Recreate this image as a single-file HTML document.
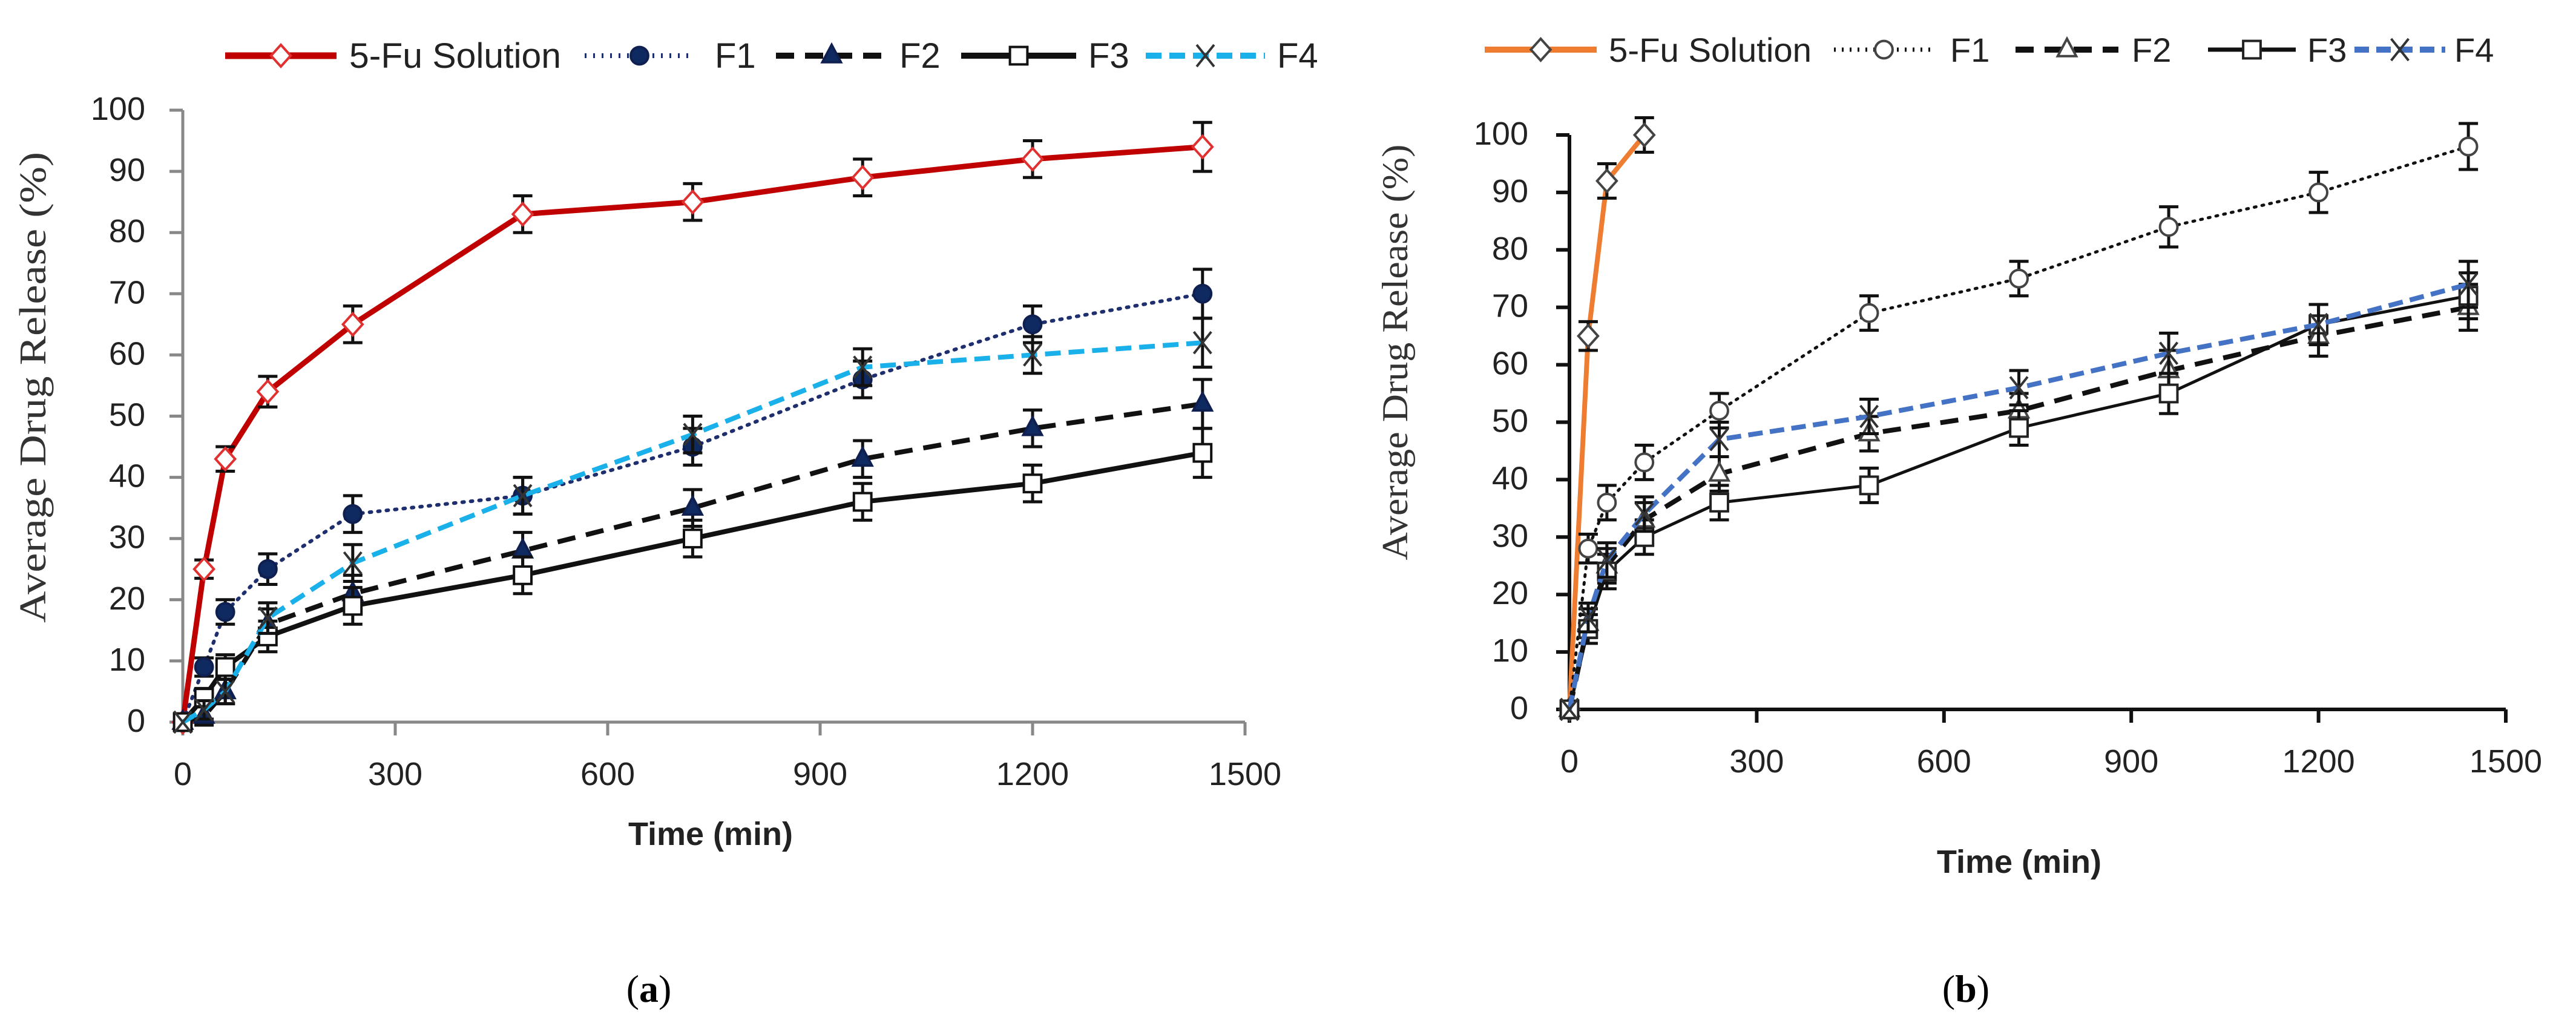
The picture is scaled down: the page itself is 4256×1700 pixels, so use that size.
<!DOCTYPE html>
<html><head><meta charset="utf-8"><style>
html,body{margin:0;padding:0;background:#fff;}
svg{display:block;font-family:"Liberation Sans",sans-serif;}
</style></head><body>
<svg id="fig" width="4256" height="1700" viewBox="0 0 4256 1700" xmlns="http://www.w3.org/2000/svg">
<text x="1072" y="1655" font-family="Liberation Serif" font-size="64" text-anchor="middle">(<tspan font-weight="bold">a</tspan>)</text>
<text x="3248" y="1655" font-family="Liberation Serif" font-size="64" text-anchor="middle">(<tspan font-weight="bold">b</tspan>)</text>
</svg>
<script>
const times = [0,30,60,120,240,480,720,960,1200,1440];
const seriesNames = ["5-Fu Solution","F1","F2","F3","F4"];
const xTicks = [0,300,600,900,1200,1500];
const yTicks = [0,10,20,30,40,50,60,70,80,90,100];
// Panel a
const aFu = [0,25,43,54,65,83,85,89,92,94];
const aF1 = [0,9,18,25,34,37,45,56,65,70];
const aF2 = [0,1,5,16,21,28,35,43,48,52];
const aF3 = [0,4,9,14,19,24,30,36,39,44];
const aF4 = [0,2,5,17,26,37,47,58,60,62];
const aErr = [1,1.5,2,2.5,3,3,3,3,3,4];
// Panel b
const bFuTimes = [0,30,60,120];
const bFu = [0,65,92,100];
const bF1 = [0,28,36,43,52,69,75,84,90,98];
const bF2 = [0,15,25,33,41,48,52,59,65,70];
const bF3 = [0,14,24,30,36,39,49,55,67,72];
const bF4 = [0,16,26,34,47,51,56,62,67,74];
const bErr = [1,2.5,3,3,3,3,3,3.5,3.5,4];

const NS="http://www.w3.org/2000/svg";
const svg=document.getElementById('fig');
function el(tag,attrs,parent){const e=document.createElementNS(NS,tag);for(const k in attrs)e.setAttribute(k,attrs[k]);(parent||svg).appendChild(e);return e;}

function marker(g,type,cx,cy,color,fill,sz){
  let m;
  if(type==='diamond'){m=el('polygon',{points:`${cx},${cy-sz} ${cx+sz*0.9},${cy} ${cx},${cy+sz} ${cx-sz*0.9},${cy}`,fill:fill,stroke:color,'stroke-width':4},g);}
  else if(type==='circle'){m=el('circle',{cx:cx,cy:cy,r:sz*0.8,fill:fill,stroke:color,'stroke-width':4},g);}
  else if(type==='triangle'){m=el('polygon',{points:`${cx},${cy-sz} ${cx+sz*0.85},${cy+sz*0.6} ${cx-sz*0.85},${cy+sz*0.6}`,fill:fill,stroke:color,'stroke-width':4},g);}
  else if(type==='square'){m=el('rect',{x:cx-sz*0.8,y:cy-sz*0.8,width:sz*1.6,height:sz*1.6,fill:fill,stroke:color,'stroke-width':4},g);}
  else {m=el('path',{d:`M${cx-sz*0.8},${cy-sz}L${cx+sz*0.8},${cy+sz}M${cx+sz*0.8},${cy-sz}L${cx-sz*0.8},${cy+sz}`,stroke:color,'stroke-width':4,fill:'none'},g);}
  
  
}

function panel(cfg){
  const g=el('g',{});
  
  
  const X=v=>cfg.x0+(v/1500)*(cfg.x1-cfg.x0);
  const Y=v=>cfg.y0-(v/100)*(cfg.y0-cfg.y1);
  const ya=el('line',{x1:X(0),y1:Y(0),x2:X(0),y2:Y(100),stroke:cfg.axisColor,'stroke-width':cfg.axisW},g);
  
  const xa=el('line',{x1:X(0),y1:Y(0),x2:X(1500),y2:Y(0),stroke:cfg.axisColor,'stroke-width':cfg.axisW},g);
  
  yTicks.forEach(t=>{
    el('line',{x1:X(0)-22,y1:Y(t),x2:X(0),y2:Y(t),stroke:cfg.axisColor,'stroke-width':cfg.axisW},g);
    const tx=el('text',{x:X(0)-cfg.ylGap,y:Y(t)+16,'font-size':54,'text-anchor':'end',fill:'#222'},g);
    tx.textContent=t;
    
  });
  xTicks.forEach(t=>{
    el('line',{x1:X(t),y1:Y(0),x2:X(t),y2:Y(0)+22,stroke:cfg.axisColor,'stroke-width':cfg.axisW},g);
    const tx=el('text',{x:X(t),y:Y(0)+104,'font-size':54,'text-anchor':'middle',fill:'#222'},g);
    tx.textContent=t;
    
  });
  const xt=el('text',{x:cfg.xtX,y:cfg.xtY,'font-size':54,'font-weight':'bold','text-anchor':'middle',fill:'#222'},g);
  xt.textContent='Time (min)';
  
  const yt=el('text',{x:0,y:0,'font-size':cfg.ytSize,'font-family':'Liberation Serif','text-anchor':'middle',fill:'#333',textLength:cfg.ytLen,lengthAdjust:'spacingAndGlyphs',transform:`translate(${cfg.ytX},${cfg.ytY}) rotate(-90)`},g);
  yt.textContent='Average Drug Release (%)';
  
  cfg.series.forEach((s,i)=>{
    const sg=el('g',{},g);
    
    
    const pts=s.vals.map((v,j)=>X(s.t[j])+','+Y(v)).join(' ');
    const pl=el('polyline',{points:pts,fill:'none',stroke:s.color,'stroke-width':s.w,'stroke-dasharray':s.dash||'none','stroke-linecap':s.cap||'butt'},sg);
    
    s.vals.forEach((v,j)=>{
      const e=cfg.err[j];
      if(j>0){
        const eb=el('path',{d:`M${X(s.t[j])},${Y(v-e)}V${Y(v+e)}M${X(s.t[j])-16},${Y(v-e)}h32M${X(s.t[j])-16},${Y(v+e)}h32`,stroke:'#111','stroke-width':5,fill:'none'},sg);
        
      }
      marker(sg,s.m,X(s.t[j]),Y(v),s.mc,s.mf,cfg.msz);
    });
  });
  cfg.legend.forEach((lx,i)=>{
    const s=cfg.series[i];
    const lg=el('g',{},g);
    
    el('line',{x1:lx[0],y1:cfg.ly,x2:lx[1],y2:cfg.ly,stroke:s.color,'stroke-width':s.w+2,'stroke-dasharray':s.dash||'none'},lg);
    marker(lg,s.m,(lx[0]+lx[1])/2,cfg.ly,s.mc,s.mf,cfg.msz);
    const attrs={x:lx[2],y:cfg.ly+20,'font-size':cfg.lfs,fill:'#222'};
    if(i===0){attrs.textLength=cfg.fuLen;attrs.lengthAdjust='spacingAndGlyphs';}
    const t=el('text',attrs,lg);
    t.textContent=seriesNames[i];
  });
}

panel({name:'panel-a-chart',x0:302,x1:2057,y0:1193,y1:182,axisColor:'#888',axisW:5,err:aErr,msz:18,ylGap:62,
  xtX:1174,xtY:1396,ytX:75,ytY:640,ytSize:62,ytLen:778,ly:92,fuLen:350,lfs:58,
  legend:[[372,556,577],[966,1147,1181],[1282,1466,1486],[1588,1778,1798],[1893,2090,2110]],
  series:[
    {t:times,vals:aFu,color:'#c00000',w:9,m:'diamond',mc:'#e03030',mf:'#fff'},
    {t:times,vals:aF1,color:'#1f2f6e',w:6,dash:'3 11',cap:'round',m:'circle',mc:'#0e1f50',mf:'#0e2a60'},
    {t:times,vals:aF2,color:'#111',w:8,dash:'30 18',m:'triangle',mc:'#0e1f50',mf:'#0e2a60'},
    {t:times,vals:aF3,color:'#111',w:8,m:'square',mc:'#111',mf:'#fff'},
    {t:times,vals:aF4,color:'#1ab0ea',w:8,dash:'26 13',m:'x',mc:'#333',mf:'none'}
  ]});

panel({name:'panel-b-chart',x0:2593,x1:4140,y0:1172,y1:223,axisColor:'#111',axisW:6,err:bErr,msz:18,ylGap:68,
  xtX:3336,xtY:1442,ytX:2325,ytY:582,ytSize:60,ytLen:687,ly:82,fuLen:335,lfs:56,
  legend:[[2453,2638,2658],[3030,3195,3222],[3330,3500,3522],[3648,3793,3812],[3890,4040,4055]],
  series:[
    {t:bFuTimes,vals:bFu,color:'#ee7d31',w:8,m:'diamond',mc:'#444',mf:'#fff'},
    {t:times,vals:bF1,color:'#111',w:5,dash:'3 10',cap:'round',m:'circle',mc:'#444',mf:'#fff'},
    {t:times,vals:bF2,color:'#111',w:8,dash:'30 18',m:'triangle',mc:'#444',mf:'#fff'},
    {t:times,vals:bF3,color:'#111',w:5,m:'square',mc:'#222',mf:'#fff'},
    {t:times,vals:bF4,color:'#4472c4',w:8,dash:'24 12',m:'x',mc:'#333',mf:'none'}
  ]});
</script>
</body></html>
